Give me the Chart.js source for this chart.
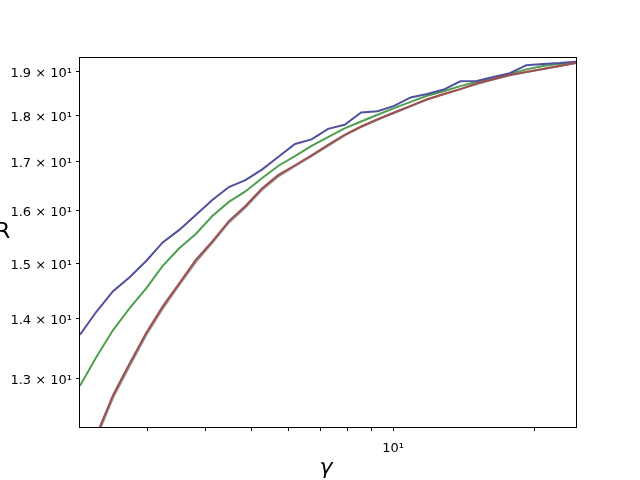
<!DOCTYPE html>
<html>
<head>
<meta charset="utf-8">
<script src="https://cdn.jsdelivr.net/npm/chart.js@4.4.0/dist/chart.umd.min.js"></script>
<style>
  html, body { margin: 0; padding: 0; background: #fff; }
  #wrap { width: 640px; height: 480px; }
</style>
</head>
<body>
<div id="wrap"><canvas id="chart" width="640" height="480"></canvas></div>
<script>
// gamma values (x axis, log)
const gammaValues = [2.158, 2.340, 2.537, 2.752, 2.984, 3.236, 3.509, 3.805, 4.126, 4.474,
  4.852, 5.261, 5.705, 6.186, 6.708, 7.274, 7.887, 8.553, 9.271, 10.05,
  10.90, 11.82, 12.82, 13.90, 15.07, 16.34, 17.72, 19.21, 20.84, 22.59, 24.50];

// R values for each curve
const blueR = [13.73, 14.13, 14.49, 14.74, 15.04, 15.39, 15.63, 15.92, 16.22, 16.48,
  16.62, 16.84, 17.11, 17.38, 17.48, 17.71, 17.80, 18.07, 18.10, 18.22,
  18.41, 18.49, 18.59, 18.78, 18.79, 18.88, 18.97, 19.16, 19.19, 19.21, 19.24];
const greenR = [12.89, 13.36, 13.81, 14.19, 14.54, 14.95, 15.28, 15.55, 15.90, 16.18,
  16.39, 16.66, 16.92, 17.12, 17.34, 17.53, 17.72, 17.87, 18.02, 18.17,
  18.31, 18.45, 18.55, 18.67, 18.77, 18.86, 18.95, 19.06, 19.14, 19.19, 19.23];
const grayR = [11.46, 12.09, 12.70, 13.21, 13.72, 14.18, 14.60, 15.02, 15.38, 15.77,
  16.07, 16.42, 16.70, 16.91, 17.12, 17.34, 17.56, 17.75, 17.91, 18.06,
  18.21, 18.36, 18.48, 18.60, 18.72, 18.82, 18.92, 19.00, 19.07, 19.14, 19.21];
const redR = [11.50, 12.13, 12.74, 13.25, 13.76, 14.22, 14.63, 15.06, 15.41, 15.80,
  16.10, 16.45, 16.73, 16.93, 17.14, 17.36, 17.58, 17.76, 17.92, 18.07,
  18.22, 18.37, 18.49, 18.60, 18.73, 18.83, 18.93, 19.00, 19.07, 19.14, 19.21];

// ticks
const xTickValues = [3, 4, 5, 6, 7, 8, 9, 10, 20];
const xTickLabels = ['', '', '', '', '', '', '', '10\u00b9', ''];
const yTickValues = [13, 14, 15, 16, 17, 18, 19];
const yTickLabels = ['1.3 \u00d7 10\u00b9', '1.4 \u00d7 10\u00b9', '1.5 \u00d7 10\u00b9', '1.6 \u00d7 10\u00b9',
  '1.7 \u00d7 10\u00b9', '1.8 \u00d7 10\u00b9', '1.9 \u00d7 10\u00b9'];

function toPoints(ys) {
    return gammaValues.map((g, i) => ({ x: g, y: ys[i] }));
}

// cadre complet + titres des axes
const framePlugin = {
    id: 'frame',
    afterDraw(chart) {
        const { ctx, chartArea: a } = chart;
        ctx.save();
        ctx.strokeStyle = '#000';
        ctx.lineWidth = 1;
        ctx.strokeRect(a.left - 0.5, a.top - 0.5, a.right - a.left + 1, a.bottom - a.top + 1);
        ctx.fillStyle = '#000';
        ctx.font = '22px "DejaVu Sans"';
        ctx.textAlign = 'left';
        ctx.textBaseline = 'alphabetic';
        ctx.fillText('R', -5, 238);
        ctx.font = 'italic 22px "DejaVu Sans"';
        ctx.textAlign = 'center';
        ctx.fillText('\u03b3', 326, 474);
        ctx.restore();
    }
};

const ctx = document.getElementById('chart').getContext('2d');
new Chart(ctx, {
    type: 'line',
    data: {
        datasets: [
            { data: toPoints(redR), borderColor: 'rgb(158,80,80)', order: 1 },
            { data: toPoints(blueR), borderColor: 'rgb(80,80,158)', order: 2 },
            { data: toPoints(greenR), borderColor: 'rgb(80,158,80)', order: 3 },
            { data: toPoints(grayR), borderColor: 'rgb(150,150,150)', order: 4 }
        ]
    },
    options: {
        responsive: false,
        animation: false,
        layout: { padding: { top: 58, right: 64, left: 0, bottom: 0 } },
        elements: {
            line: { borderWidth: 2, tension: 0, fill: false },
            point: { radius: 0, hoverRadius: 0 }
        },
        plugins: {
            legend: { display: false },
            tooltip: { enabled: false }
        },
        scales: {
            x: {
                type: 'logarithmic',
                min: 2.158,
                max: 24.5,
                afterFit: s => { s.height = 53; },
                afterBuildTicks: s => { s.ticks = xTickValues.map(v => ({ value: v })); },
                grid: { drawOnChartArea: false, drawTicks: true, tickLength: 4, color: '#000' },
                border: { display: false },
                ticks: {
                    autoSkip: false,
                    maxRotation: 0,
                    padding: 10,
                    color: '#000',
                    font: { family: 'DejaVu Sans', size: 13 },
                    callback: (v, i) => xTickLabels[i]
                }
            },
            y: {
                type: 'logarithmic',
                min: 12.25,
                max: 19.33,
                afterFit: s => { s.width = 80; },
                afterBuildTicks: s => { s.ticks = yTickValues.map(v => ({ value: v })); },
                grid: { drawOnChartArea: false, drawTicks: true, tickLength: 4, color: '#000' },
                border: { display: false },
                ticks: {
                    autoSkip: false,
                    padding: 4,
                    labelOffset: 2,
                    color: '#000',
                    font: { family: 'DejaVu Sans', size: 13 },
                    callback: (v, i) => yTickLabels[i]
                }
            }
        }
    },
    plugins: [framePlugin]
});
</script>
</body>
</html>
